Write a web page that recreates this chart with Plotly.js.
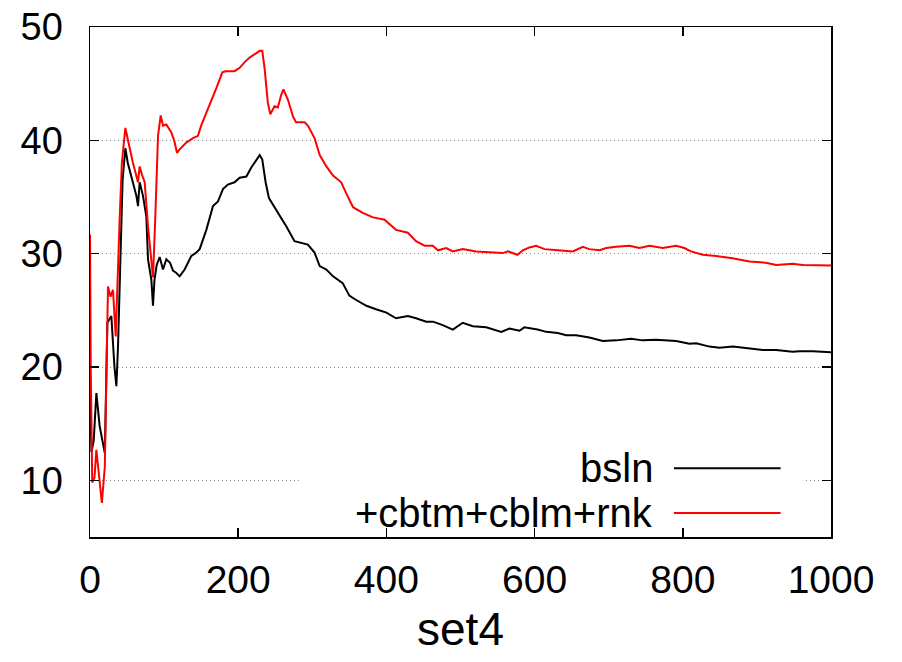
<!DOCTYPE html>
<html>
<head>
<meta charset="utf-8">
<script src="https://cdn.plot.ly/plotly-3.0.1.min.js"></script>
<style>html,body{margin:0;padding:0;background:#fff;}#chart{width:902px;height:662px;}</style>
</head>
<body>
<div id="chart"></div>
<script>
// bsln series
var bslnX = [0,2,5,8.6,13,17,20,23.4,28.8,33,35.6,37.8,41,44,47.7,51,55.8,60,62.6,64.8,67,71.5,76,78.3,82.8,85,87,90,94,98.5,103,108,112,116.5,121,127.7,136.8,143.5,148,157,166,172.7,179.4,186,195,202,211,217.7,224.5,229,232.5,237,241.5,251,260,265,276,287,294,303,310,319,328,341,350,357,368,373,386,400,413,429,440,453.8,463,476,489.7,503,516.7,534.7,555,566,579.7,586,604,615.7,631.3,642.6,656,674,692,710,730,746,764,777.6,791,809,818,836,849.6,867.6,885.5,908,926,948,957.5,975.5,1000];
var bslnY = [18,12.5,13.5,17.7,14.8,13.5,12.4,23.9,24.5,20,18.3,21.8,30,36.5,39.3,38,36.8,35.8,35.1,34.2,36.3,35.1,33.3,29.5,27.7,25.4,27.7,29.0,29.7,28.6,29.5,29.2,28.5,28.3,28.0,28.6,29.8,30.1,30.4,32.1,34.2,34.6,35.7,36.1,36.3,36.7,36.8,37.6,38.2,38.7,38.3,36.3,34.9,33.9,33.0,32.4,31.1,30.9,30.8,30.1,28.9,28.6,28.0,27.4,26.3,26.0,25.6,25.4,25.1,24.8,24.3,24.5,24.3,24.0,24.0,23.7,23.3,23.9,23.6,23.5,23.1,23.4,23.2,23.5,23.3,23.1,23.0,22.8,22.8,22.6,22.3,22.35,22.5,22.35,22.4,22.35,22.3,22.05,22.1,21.8,21.7,21.8,21.65,21.5,21.5,21.35,21.4,21.4,21.3];

// +cbtm+cblm+rnk series
var rnkX = [0,1,3,6,8.6,13,16,20,24.3,27.7,31,34.7,37,40,43,47.7,51,58,64.8,67,70,73.8,78.3,82.8,85,88,91.8,95.4,98.5,103,109.8,114,117.4,121,130,139,145.7,150,157,163.8,170.5,178.6,183,195,202,208.7,215.4,224.5,229,232.5,235.7,240,243.3,249,253.5,258,261,267,274,278,289.6,294,303,310,319,328,339,346,355,368,382,397.5,413,429,440,451.5,462.7,469.5,480.8,489.7,503,521,539,557,564,577,584,593,602,613.4,631.3,651.6,665,674,687.6,696.6,710,728,741.5,755,773,791,802,811,827,845,867,890,912,926,935,948,962,979.7,1000];
var rnkY = [31.7,20,9.8,10.2,12.7,9.5,8.0,11.2,27.1,26.2,26.8,22.7,27.7,33,38,41.1,40.1,38.0,36.3,37.7,37.0,36.3,32.4,28.9,27.9,33,40.4,42.2,41.3,41.4,40.7,39.9,38.9,39.2,39.8,40.2,40.4,41.3,42.4,43.6,44.6,46.0,46.1,46.1,46.4,46.9,47.3,47.7,47.9,47.9,46.3,43.3,42.3,43.0,42.9,44.0,44.5,43.6,42.1,41.6,41.6,41.3,40.2,38.7,37.7,36.9,36.3,35.3,34.1,33.6,33.2,33.0,32.1,31.85,31.1,30.7,30.7,30.3,30.5,30.2,30.4,30.2,30.15,30.05,30.2,29.9,30.3,30.55,30.7,30.4,30.3,30.2,30.6,30.4,30.3,30.5,30.6,30.7,30.5,30.7,30.5,30.7,30.5,30.2,29.9,29.8,29.6,29.3,29.2,29.0,29.05,29.1,29.0,29.0,28.95];

var seriesNames = ['bsln', '+cbtm+cblm+rnk'];
var xTicks = [0,200,400,600,800,1000];
var yTicks = [10,20,30,40,50];
var xTitle = 'set4';

var FONT = '"Liberation Sans", Arial, Helvetica, sans-serif';

var traces = [
  {x: bslnX, y: bslnY, type: 'scatter', mode: 'lines', name: seriesNames[0],
   line: {color: '#000000', width: 2}, showlegend: false, hoverinfo: 'skip'},
  {x: rnkX, y: rnkY, type: 'scatter', mode: 'lines', name: seriesNames[1],
   line: {color: '#ff0000', width: 2}, showlegend: false, hoverinfo: 'skip'}
];

var layout = {
  width: 902, height: 662,
  margin: {l: 90, r: 71, t: 27, b: 125, pad: 0},
  paper_bgcolor: '#ffffff', plot_bgcolor: '#ffffff',
  font: {family: FONT, color: '#000000', size: 38},
  showlegend: false,
  xaxis: {
    range: [0, 1000], tickvals: xTicks, ticktext: xTicks.map(String),
    ticks: 'inside', ticklen: 9, tickwidth: 1.5, tickcolor: '#000',
    showline: true, linecolor: '#000', linewidth: 1.5, mirror: 'ticks',
    showgrid: false, zeroline: false,
    tickfont: {family: FONT, size: 39, color: '#000'},
    ticklabelstandoff: 8,
    title: {text: xTitle, font: {family: FONT, size: 46, color: '#000'}, standoff: 12}
  },
  yaxis: {
    range: [5, 50], tickvals: yTicks, ticktext: yTicks.map(String),
    ticks: 'inside', ticklen: 9, tickwidth: 1.5, tickcolor: '#000',
    showline: true, linecolor: '#000', linewidth: 1.5, mirror: 'ticks',
    showgrid: true, gridcolor: '#8a8a8a', gridwidth: 1, griddash: '1px,3px',
    zeroline: false,
    tickfont: {family: FONT, size: 38, color: '#000'},
    ticklabelstandoff: 18
  },
  shapes: [
    {type: 'rect', xref: 'paper', yref: 'paper', x0: 0.283, x1: 0.966, y0: 0.025, y1: 0.19,
     fillcolor: '#ffffff', line: {width: 0}, layer: 'above'},
    {type: 'line', xref: 'paper', yref: 'paper', x0: 0.788, x1: 0.932, y0: 0.135, y1: 0.135,
     line: {color: '#000000', width: 2}, layer: 'above'},
    {type: 'line', xref: 'paper', yref: 'paper', x0: 0.788, x1: 0.932, y0: 0.047, y1: 0.047,
     line: {color: '#ff0000', width: 2}, layer: 'above'}
  ],
  annotations: [
    {xref: 'paper', yref: 'paper', x: 0.762, y: 0.135, xanchor: 'right', yanchor: 'middle',
     text: seriesNames[0], showarrow: false, font: {family: FONT, size: 40, color: '#000'}},
    {xref: 'paper', yref: 'paper', x: 0.762, y: 0.047, xanchor: 'right', yanchor: 'middle',
     text: seriesNames[1], showarrow: false, font: {family: FONT, size: 40, color: '#000'}}
  ]
};

Plotly.newPlot('chart', traces, layout, {staticPlot: true, displayModeBar: false});
</script>
</body>
</html>
